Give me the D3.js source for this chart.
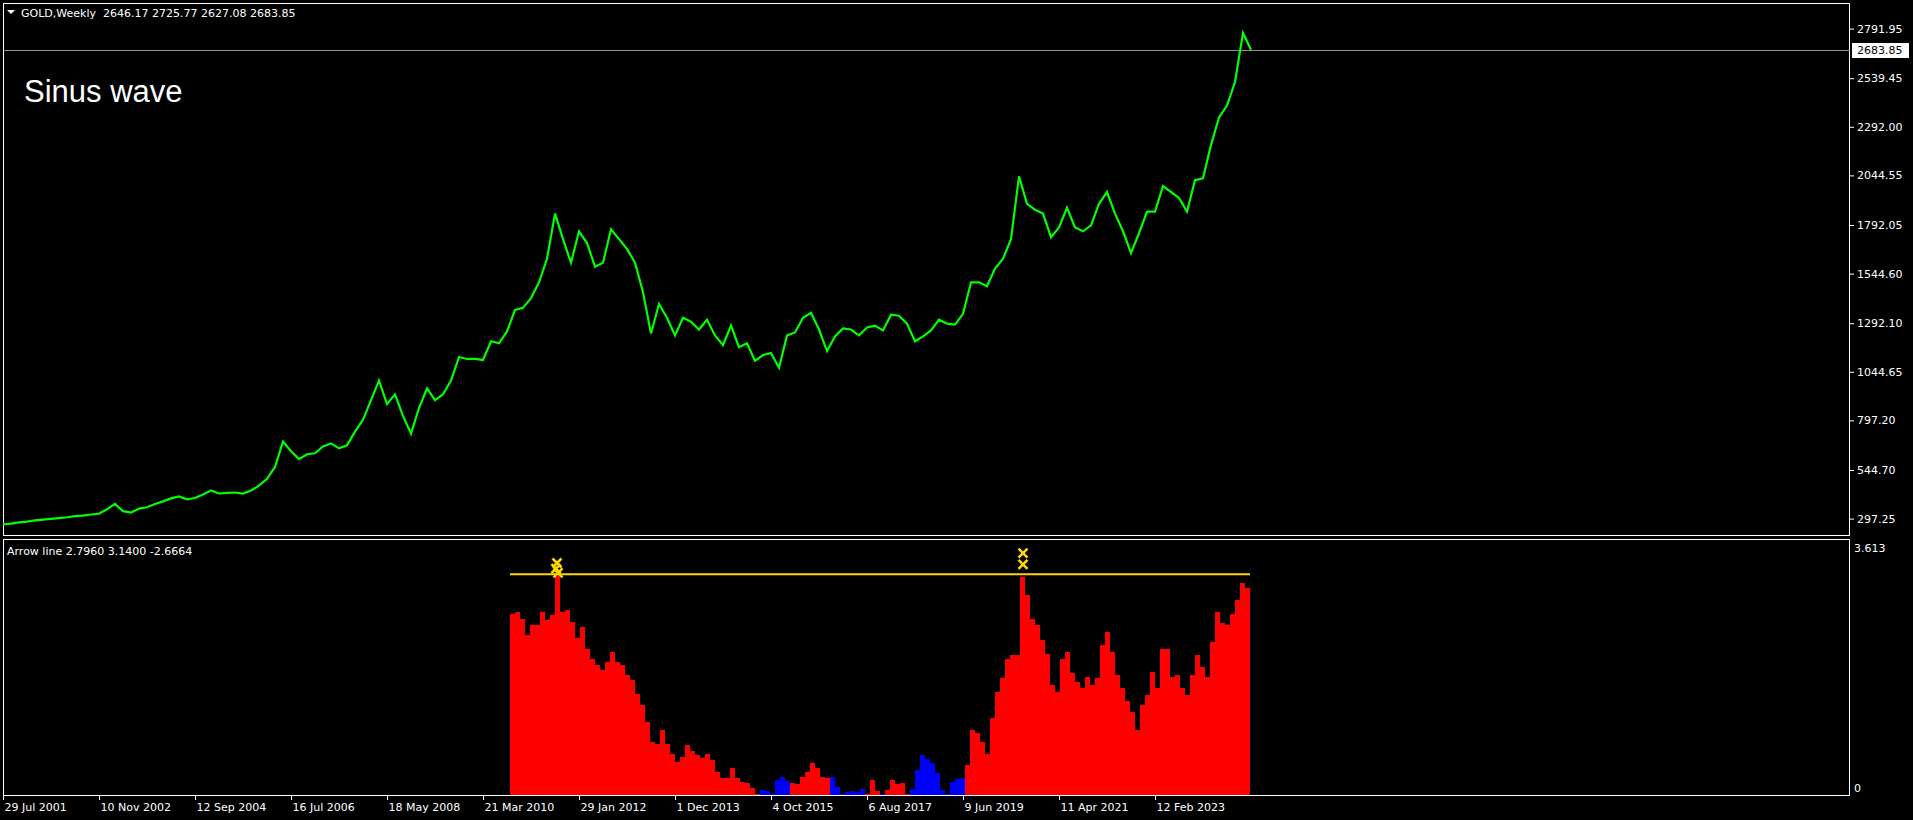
<!DOCTYPE html>
<html>
<head>
<meta charset="utf-8">
<script src="https://cdn.jsdelivr.net/npm/d3@7"></script>
<style>
  html, body { margin: 0; background: #000; overflow: hidden; }
  svg { display: block; }
  text { font-family: "DejaVu Sans", sans-serif; font-size: 11px; fill: #fff; }
</style>
</head>
<body>
<svg width="1913" height="820"></svg>
<script>
// weekly gold closes, one sample every 8 bars
const priceStep = 8;
const prices = [
  268, 272, 278, 282, 288, 292, 296, 300, 304, 310, 312, 318, 322, 345, 372, 335,
  328, 348, 355, 372, 385, 400, 410, 395, 402, 420, 440, 425, 428, 430, 425, 440,
  465, 500, 560, 690, 640, 600, 625, 630, 665, 680, 655, 670, 740, 800, 900, 1000,
  880, 930, 820, 730, 860, 960, 900, 930, 1000, 1120, 1110, 1110, 1105, 1200, 1190, 1250,
  1360, 1370, 1420, 1500, 1620, 1850, 1720, 1600, 1760, 1700, 1580, 1600, 1770, 1720, 1670, 1600,
  1450, 1240, 1390, 1320, 1230, 1320, 1300, 1260, 1310, 1230, 1180, 1280, 1170, 1190, 1100, 1130,
  1140, 1065, 1230, 1245, 1320, 1345, 1260, 1150, 1225, 1265, 1260, 1230, 1270, 1280, 1255, 1335,
  1330, 1290, 1200, 1225, 1255, 1310, 1290, 1285, 1340, 1500, 1500, 1480, 1570, 1620, 1720, 2040,
  1900, 1870, 1850, 1730, 1780, 1880, 1780, 1760, 1790, 1900, 1960, 1850, 1760, 1650, 1750, 1860,
  1860, 1990, 1960, 1930, 1860, 2020, 2030, 2200, 2340, 2400, 2520, 2770, 2684
];
const lastClose = 2683.85;
const priceTicks = [2791.95, 2539.45, 2292.00, 2044.55, 1792.05, 1544.60, 1292.10, 1044.65, 797.20, 544.70, 297.25];

const dateStep = 96;
const dateLabels = ["29 Jul 2001", "10 Nov 2002", "12 Sep 2004", "16 Jul 2006", "18 May 2008",
  "21 Mar 2010", "29 Jan 2012", "1 Dec 2013", "4 Oct 2015", "6 Aug 2017", "9 Jun 2019",
  "11 Apr 2021", "12 Feb 2023"];

// oscillator histogram, one bin every 5 bars starting at bar 507
const histStart = 507;
const histStep = 5;
const hist = [
  2.58, 2.60, 2.51, 2.27, 2.42, 2.42, 2.60, 2.49, 2.56, 3.12,
  2.60, 2.63, 2.46, 2.23, 2.39, 2.08, 1.94, 1.85, 1.78, 1.89,
  2.04, 1.89, 1.85, 1.70, 1.63, 1.44, 1.28, 1.04, 0.76, 0.73,
  0.92, 0.73, 0.59, 0.47, 0.54, 0.71, 0.62, 0.57, 0.52, 0.59,
  0.50, 0.33, 0.24, 0.24, 0.38, 0.24, 0.18, 0.17, 0.10, 0.02,
  0.07, 0.06, 0.02, 0.21, 0.26, 0.20, 0.17, 0.15, 0.26, 0.33,
  0.45, 0.38, 0.26, 0.24, 0.26, 0.12, 0.02, 0.04, 0.06, 0.04,
  0.09, 0.02, 0.21, 0.05, 0.01, 0.07, 0.21, 0.15, 0.17, 0.01,
  0.09, 0.36, 0.57, 0.51, 0.45, 0.31, 0.07, 0.01, 0.19, 0.23,
  0.24, 0.43, 0.92, 0.88, 0.76, 0.59, 1.09, 1.47, 1.66, 1.94,
  1.99, 1.99, 3.10, 2.84, 2.51, 2.42, 2.20, 2.01, 1.56, 1.47,
  1.94, 2.04, 1.73, 1.61, 1.52, 1.68, 1.56, 1.66, 2.13, 2.32,
  2.04, 1.70, 1.52, 1.33, 1.18, 0.92, 1.28, 1.42, 1.75, 1.52,
  2.08, 2.08, 1.68, 1.70, 1.52, 1.42, 1.70, 1.99, 1.82, 1.68,
  2.18, 2.60, 2.44, 2.42, 2.58, 2.77, 3.01, 2.94
];
// runs of colour: r = up (red), b = down (blue)
const histColorRuns = [["r", 50], ["b", 6], ["r", 8], ["b", 7], ["r", 3], ["b", 1], ["r", 5], ["b", 11], ["r", 57]];
const arrowLevel = 3.14;
const oscMax = 3.613;
const markers = [
  { bar: 554, v: 3.30 }, { bar: 553, v: 3.22 }, { bar: 555, v: 3.16 },
  { bar: 1020, v: 3.44 }, { bar: 1020, v: 3.28 }
];

const histColors = histColorRuns.flatMap(([c, n]) => Array(n).fill(c));

const svg = d3.select("svg");
svg.append("rect").attr("width", 1913).attr("height", 820).attr("fill", "#000");

const x = d3.scaleLinear().domain([0, 1248]).range([3, 1251]);
const yPrice = d3.scaleLinear().domain([297.25, 2791.95]).range([518.6, 28.6]);
const yOsc = d3.scaleLinear().domain([0, oscMax]).range([795, 541]);

// frames
svg.append("rect")
  .attr("x", 3.5).attr("y", 3.5).attr("width", 1846).attr("height", 532)
  .attr("fill", "none").attr("stroke", "#fff").attr("shape-rendering", "crispEdges");
svg.append("rect")
  .attr("x", 3.5).attr("y", 539.5).attr("width", 1846).attr("height", 256)
  .attr("fill", "none").attr("stroke", "#fff").attr("shape-rendering", "crispEdges");

// current price line
svg.append("line")
  .attr("x1", 4).attr("x2", 1850)
  .attr("y1", Math.round(yPrice(lastClose)) + 0.5).attr("y2", Math.round(yPrice(lastClose)) + 0.5)
  .attr("stroke", "#8c96a0");

// price line
const line = d3.line()
  .x((d, i) => x(i * priceStep))
  .y(d => yPrice(d));
svg.append("path")
  .datum(prices)
  .attr("d", line)
  .attr("fill", "none")
  .attr("stroke", "#00ff00")
  .attr("stroke-width", 2.2)
  .attr("stroke-linejoin", "miter");

// price axis
const pAxis = svg.append("g")
  .attr("transform", "translate(1850,0)")
  .call(d3.axisRight(yPrice).tickValues(priceTicks).tickSize(4).tickPadding(3)
    .tickFormat(d3.format(".2f")));
pAxis.select(".domain").remove();
pAxis.selectAll("line").attr("stroke", "#fff");
pAxis.selectAll("text").attr("fill", "#fff").style("font-family", "DejaVu Sans").style("font-size", "11px");

// last price tag
const ly = yPrice(lastClose);
svg.append("rect")
  .attr("x", 1852).attr("y", Math.round(ly) - 7).attr("width", 57).attr("height", 15)
  .attr("fill", "#fff");
svg.append("text")
  .attr("x", 1857).attr("y", ly + 4.5)
  .style("fill", "#000")
  .text(lastClose.toFixed(2));

// header texts
svg.append("path").attr("d", "M7,10L15,10L11,14Z").attr("fill", "#fff");
svg.append("text").attr("x", 21).attr("y", 16.5)
  .text("GOLD,Weekly  2646.17 2725.77 2627.08 2683.85")
  .attr("xml:space", "preserve").style("white-space", "pre");
svg.append("text").attr("x", 24).attr("y", 102)
  .style("font-family", "'Liberation Sans', Arial, sans-serif").style("font-size", "31px")
  .text("Sinus wave");
svg.append("text").attr("x", 7).attr("y", 555)
  .text("Arrow line 2.7960 3.1400 -2.6664");

// histogram
svg.append("g")
  .selectAll("rect")
  .data(hist)
  .join("rect")
  .attr("x", (d, i) => x(histStart + i * histStep))
  .attr("width", x(histStep) - x(0))
  .attr("y", d => yOsc(d))
  .attr("height", d => yOsc(0) - yOsc(d))
  .attr("fill", (d, i) => histColors[i] === "r" ? "#ff0000" : "#0000ff")
  .attr("shape-rendering", "crispEdges");

// arrow level line
svg.append("line")
  .attr("x1", x(histStart)).attr("x2", x(histStart + hist.length * histStep))
  .attr("y1", yOsc(arrowLevel)).attr("y2", yOsc(arrowLevel))
  .attr("stroke", "#ffd700").attr("stroke-width", 2);

// markers
svg.append("g")
  .selectAll("path")
  .data(markers)
  .join("path")
  .attr("transform", d => `translate(${x(d.bar)},${yOsc(d.v)})`)
  .attr("d", d3.symbol().type(d3.symbolX).size(55))
  .attr("fill", "none")
  .attr("stroke", "#ffd700")
  .attr("stroke-width", 2.6);

// oscillator scale labels
svg.append("text").attr("x", 1854).attr("y", yOsc(oscMax) + 11).text(oscMax.toFixed(3));
svg.append("text").attr("x", 1854).attr("y", yOsc(0) - 3).text("0");

// time axis
const tAxis = svg.append("g")
  .attr("transform", "translate(0,796)")
  .call(d3.axisBottom(x)
    .tickValues(dateLabels.map((d, i) => i * dateStep))
    .tickSize(4).tickPadding(3)
    .tickFormat((d, i) => dateLabels[i]));
tAxis.select(".domain").remove();
tAxis.selectAll("line").attr("stroke", "#fff");
tAxis.selectAll("text")
  .attr("fill", "#fff").attr("text-anchor", "start").attr("x", 1)
  .style("font-family", "DejaVu Sans").style("font-size", "11px");
</script>
</body>
</html>
